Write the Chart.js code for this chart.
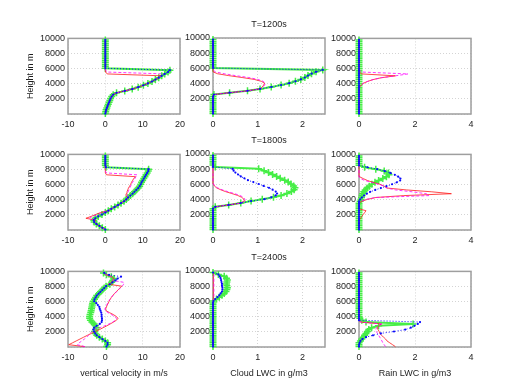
<!DOCTYPE html>
<html>
<head>
<meta charset="utf-8">
<script src="https://cdn.jsdelivr.net/npm/chart.js@4.4.0/dist/chart.umd.min.js"></script>
<style>
  body { margin: 0; background: #fff; }
  #fig { position: relative; width: 520px; height: 390px; overflow: hidden; background: #fff; }
  #fig canvas { position: absolute; }
</style>
</head>
<body>
<div id="fig"></div>
<script>
// height levels (m) shared by every profile
const heights = [50, 300, 550, 800, 1050, 1300, 1550, 1800, 2050, 2300,
  2550, 2800, 3050, 3300, 3550, 3800, 4050, 4300, 4550, 4800,
  5050, 5300, 5550, 5800, 6050, 6300, 6550, 6800, 7050, 7300,
  7550, 7800, 8050, 8300, 8550, 8800, 9050, 9300, 9550, 9800];

const times = ['T=1200s', 'T=1800s', 'T=2400s'];
const xLabels = ['vertical velocity in m/s', 'Cloud LWC in g/m3', 'Rain LWC in g/m3'];
const xRanges = [[-10, 20, 10], [0, 2.5, 1], [0, 4, 2]];
const yLabel = 'Height in m';

// T=1200s
const w1200Green = [0, 0.1, 0.2, 0.4, 0.6, 0.8, 1.0, 1.2, 1.4, 1.7, 2.1, 3.0, 5.2, 7.2, 8.8, 10.2, 11.4, 12.5, 13.4, 14.3,
  15.1, 15.9, 16.8, 17.3, 0, 0, 0, 0, 0, 0, 0, 0, 0, 0, 0, 0, 0, 0, 0, 0];
const w1200Blue = [0, 0.1, 0.2, 0.4, 0.6, 0.8, 1.0, 1.2, 1.4, 1.7, 2.1, 3.0, 5.2, 7.2, 8.8, 10.2, 11.4, 12.5, 13.4, 14.3,
  15.1, 15.9, 16.8, 17.3, 0, 0, 0, 0, 0, 0, 0, 0, 0, 0, 0, 0, 0, 0, 0, 0];
const w1200Red = [0, 0.1, 0.2, 0.4, 0.6, 0.8, 1.0, 1.2, 1.4, 1.7, 2.1, 3.0, 5.2, 7.2, 8.8, 10.2, 11.4, 12.5, 13.4, 14.3,
  15.1, 0.5, 0.1, 0, 0, 0, 0, 0, 0, 0, 0, 0, 0, 0, 0, 0, 0, 0, 0, 0];
const w1200Magenta = [0, 0.1, 0.2, 0.4, 0.6, 0.8, 1.0, 1.2, 1.4, 1.7, 2.1, 3.0, 5.2, 7.2, 8.8, 10.2, 11.4, 12.5, 13.4, 14.3,
  15.1, 15.9, 0.4, 0.1, 0, 0, 0, 0, 0, 0, 0, 0, 0, 0, 0, 0, 0, 0, 0, 0];

const c1200Green = [0, 0, 0, 0, 0, 0, 0, 0, 0, 0, 0.02, 0.37, 0.77, 1.05, 1.3, 1.52, 1.7, 1.84, 1.96, 2.05,
  2.12, 2.2, 2.3, 2.45, 0, 0, 0, 0, 0, 0, 0, 0, 0, 0, 0, 0, 0, 0, 0, 0];
const c1200Blue = [0, 0, 0, 0, 0, 0, 0, 0, 0, 0, 0.02, 0.37, 0.77, 1.05, 1.3, 1.52, 1.7, 1.84, 1.96, 2.05,
  2.12, 2.2, 2.3, 2.45, 0, 0, 0, 0, 0, 0, 0, 0, 0, 0, 0, 0, 0, 0, 0, 0];
const c1200Red = [0, 0, 0, 0, 0, 0, 0, 0, 0, 0, 0.02, 0.37, 0.77, 1.05, 1.1, 1.13, 1.15, 1.08, 0.92, 0.65,
  0.35, 0.1, 0, 0, 0, 0, 0, 0, 0, 0, 0, 0, 0, 0, 0, 0, 0, 0, 0, 0];
const c1200Magenta = [0, 0, 0, 0, 0, 0, 0, 0, 0, 0, 0.02, 0.37, 0.77, 1.05, 1.12, 1.15, 1.17, 1.12, 1.0, 0.8,
  0.5, 0.25, 0.05, 0, 0, 0, 0, 0, 0, 0, 0, 0, 0, 0, 0, 0, 0, 0, 0, 0];

const r1200Green = [0, 0, 0, 0, 0, 0, 0, 0, 0, 0, 0, 0, 0, 0, 0, 0, 0, 0, 0, 0,
  0, 0, 0, 0, 0, 0, 0, 0, 0, 0, 0, 0, 0, 0, 0, 0, 0, 0, 0, 0];
const r1200Blue = [0, 0, 0, 0, 0, 0, 0, 0, 0, 0, 0, 0, 0, 0, 0, 0, 0, 0, 0, 0,
  0, 0, 0, 0, 0, 0, 0, 0, 0, 0, 0, 0, 0, 0, 0, 0, 0, 0, 0, 0];
const r1200Red = [0, 0, 0, 0, 0, 0, 0, 0, 0, 0, 0, 0, 0, 0, 0.02, 0.08, 0.15, 0.3, 0.5, 0.8,
  1.3, 0.1, 0, 0, 0, 0, 0, 0, 0, 0, 0, 0, 0, 0, 0, 0, 0, 0, 0, 0];
const r1200Magenta = [0, 0, 0, 0, 0, 0, 0, 0, 0, 0, 0, 0, 0, 0, 0.02, 0.08, 0.15, 0.3, 0.5, 0.8,
  1.3, 1.75, 0.1, 0, 0, 0, 0, 0, 0, 0, 0, 0, 0, 0, 0, 0, 0, 0, 0, 0];

// T=1800s
const w1800Green = [0, -0.8, -1.6, -2.4, -3.0, -3.1, -2.7, -1.9, -0.9, 0.0, 0.8, 1.6, 2.5, 3.4, 4.2, 5.0, 5.6, 6.1, 6.7, 7.3,
  7.8, 8.3, 8.8, 9.2, 9.5, 9.7, 10.0, 10.3, 10.6, 10.9, 11.2, 11.5, 11.6, 0.2, 0, 0, 0, 0, 0, 0];
const w1800Blue = [0, -0.8, -1.6, -2.4, -3.0, -3.1, -2.7, -1.9, -0.9, 0.0, 0.8, 1.6, 2.5, 3.4, 4.2, 5.0, 5.6, 6.1, 6.7, 7.3,
  7.8, 8.3, 8.8, 9.2, 9.5, 9.7, 10.0, 10.3, 10.6, 10.9, 11.2, 11.5, 11.6, 0.2, 0, 0, 0, 0, 0, 0];
const w1800Red = [0, -0.8, -1.6, -2.4, -3.0, -2.6, -5.2, -3.8, -2.6, -1.3, 0.8, 1.6, 2.5, 3.4, 4.2, 5.0, 5.6, 6.1, 5.5, 5.6,
  5.8, 6.0, 6.2, 6.5, 6.8, 7.0, 7.3, 7.6, 8.1, 0.3, 0, 0, 0, 0, 0, 0, 0, 0, 0, 0];
const w1800Magenta = [0, -0.8, -1.6, -2.4, -3.0, -3.0, -4.2, -3.5, -2.0, -1.0, 0.8, 1.6, 2.5, 3.4, 4.2, 5.0, 5.6, 6.1, 5.8, 5.9,
  6.1, 6.3, 6.5, 6.8, 7.0, 7.3, 7.6, 7.9, 8.2, 8.5, 0.3, 0, 0, 0, 0, 0, 0, 0, 0, 0];

const c1800Green = [0, 0, 0, 0, 0, 0, 0, 0, 0, 0, 0, 0, 0.05, 0.35, 0.62, 0.85, 1.1, 1.35, 1.52, 1.65,
  1.75, 1.81, 1.83, 1.8, 1.74, 1.68, 1.6, 1.5, 1.42, 1.33, 1.24, 1.14, 1.02, 0.05, 0, 0, 0, 0, 0, 0];
const c1800Blue = [0, 0, 0, 0, 0, 0, 0, 0, 0, 0, 0, 0, 0.05, 0.35, 0.62, 0.85, 1.15, 1.3, 1.4, 1.43,
  1.4, 1.33, 1.25, 1.13, 1.02, 0.9, 0.78, 0.7, 0.62, 0.56, 0.5, 0.46, 0.44, 0, 0, 0, 0, 0, 0, 0];
const c1800Red = [0, 0, 0, 0, 0, 0, 0, 0, 0, 0, 0, 0, 0.05, 0.35, 0.62, 0.7, 0.69, 0.64, 0.55, 0.42,
  0.28, 0.17, 0.08, 0.03, 0.01, 0, 0, 0, 0, 0, 0, 0, 0, 0, 0, 0, 0, 0, 0, 0];
const c1800Magenta = [0, 0, 0, 0, 0, 0, 0, 0, 0, 0, 0, 0, 0.05, 0.35, 0.62, 0.72, 0.71, 0.68, 0.6, 0.47,
  0.33, 0.2, 0.1, 0.04, 0.01, 0, 0, 0, 0, 0, 0, 0, 0, 0, 0, 0, 0, 0, 0, 0];

const r1800Green = [0, 0, 0, 0, 0, 0, 0, 0, 0, 0, 0, 0, 0, 0, 0, 0.04, 0.07, 0.09, 0.11, 0.13,
  0.17, 0.22, 0.29, 0.37, 0.46, 0.57, 0.7, 0.85, 0.98, 1.07, 1.05, 0.9, 0.6, 0.2, 0, 0, 0, 0, 0, 0];
const r1800Blue = [0, 0, 0, 0, 0, 0, 0, 0, 0, 0, 0, 0, 0, 0, 0, 0, 0.04, 0.1, 0.18, 0.28,
  0.4, 0.58, 0.78, 0.98, 1.18, 1.35, 1.47, 1.48, 1.4, 1.28, 1.12, 0.92, 0.65, 0.3, 0, 0, 0, 0, 0, 0];
const r1800Red = [0, 0, 0, 0, 0, 0.02, 0.06, 0.1, 0.15, 0.2, 0.25, 0, 0, 0, 0.02, 0.1, 0.3, 0.6, 1.6, 3.3,
  2.6, 1.7, 1.0, 0.9, 0.75, 0.5, 0.3, 0.15, 0.02, 0, 0, 0, 0, 0, 0, 0, 0, 0, 0, 0];
const r1800Magenta = [0, 0, 0, 0, 0, 0, 0, 0, 0, 0, 0, 0, 0, 0, 0, 0.08, 0.25, 0.6, 2.5, 2.4,
  1.9, 1.3, 1.0, 0.9, 0.7, 0.45, 0.2, 0.05, 0, 0, 0, 0, 0, 0, 0, 0, 0, 0, 0, 0];

// T=2400s
const w2400Green = [0.3, 0.6, 0.6, 0, -0.8, -1.6, -2.3, -2.7, -2.9, -2.6, -2.4, -2.6, -3.0, -3.6, -4.0, -4.2, -4.2, -4.1, -3.9, -3.8,
  -3.7, -3.6, -3.5, -3.4, -3.2, -2.9, -2.6, -2.3, -1.8, -1.3, -0.8, -0.3, 0.2, 1.2, 1.7, 2.0, 2.3, 1.6, 0.3, -0.5];
const w2400Blue = [0.3, 0.6, 0.6, 0, -0.8, -1.6, -2.3, -2.7, -3.0, -3.2, -3.0, -2.3, -1.5, -1.0, -0.9, -0.9, -1.0, -1.0, -1.1, -1.3,
  -1.5, -1.6, -2.0, -2.4, -3.0, -2.9, -2.6, -2.3, -1.8, -1.3, -0.8, -0.3, 0.2, 1.2, 1.9, 2.7, 3.3, 4.2, 1.0, -0.3];
const w2400Red = [-5.5, -9.8, -8.8, -7.8, -6.8, -5.8, -4.8, -3.7, -2.6, -1.6, -0.6, 0.4, 1.3, 2.2, 3.0, 3.4, 2.9, 2.1, 1.1, 0.2,
  0.1, 0.3, 0.5, 0.8, 1.0, 1.3, 1.6, 2.0, 2.4, 2.9, 3.4, 3.9, 4.4, 0.8, 1.7, 2.0, 2.3, 1.6, 0.3, -0.5];
const w2400Magenta = [-5.5, -7.5, -7.0, -6.3, -5.6, -5.0, -4.5, -4.1, -3.6, -2.8, -1.5, -0.2, 1.0, 2.0, 2.7, 3.0, 2.5, 1.6, 0.7, 0.0,
  -0.1, 0.1, 0.4, 0.6, 0.9, 1.2, 1.6, 2.0, 2.5, 3.0, 3.5, 4.0, 4.5, 4.9, 5.0, 2.0, 2.3, 1.6, 0.3, -0.5];

const c2400Green = [0, 0, 0, 0, 0, 0, 0, 0, 0, 0, 0, 0, 0, 0, 0, 0, 0, 0, 0, 0,
  0, 0, 0, 0, 0.01, 0.08, 0.14, 0.2, 0.25, 0.29, 0.31, 0.32, 0.31, 0.3, 0.31, 0.32, 0.3, 0.25, 0.12, 0];
const c2400Blue = [0, 0, 0, 0, 0, 0, 0, 0, 0, 0, 0, 0, 0, 0, 0, 0, 0, 0, 0, 0,
  0, 0, 0, 0, 0.01, 0.05, 0.1, 0.14, 0.17, 0.2, 0.21, 0.21, 0.2, 0.2, 0.19, 0.18, 0.17, 0.15, 0.12, 0];
const c2400Red = [0, 0, 0, 0, 0, 0, 0, 0, 0, 0, 0, 0, 0, 0, 0, 0, 0, 0, 0, 0,
  0, 0, 0, 0, 0, 0.01, 0.02, 0.02, 0.02, 0.02, 0.02, 0.02, 0.02, 0.02, 0.02, 0.02, 0.02, 0.02, 0.02, 0];
const c2400Magenta = [0, 0, 0, 0, 0, 0, 0, 0, 0, 0, 0, 0, 0, 0, 0, 0, 0, 0, 0, 0,
  0, 0, 0, 0, 0, 0.01, 0.02, 0.02, 0.02, 0.02, 0.02, 0.02, 0.02, 0.02, 0.02, 0.02, 0.02, 0.02, 0.02, 0];

const r2400Green = [0, 0, 0, 0.05, 0.1, 0.15, 0.2, 0.25, 0.3, 0.35, 0.45, 0.7, 1.93, 0.25, 0.1, 0.03, 0, 0, 0, 0,
  0, 0, 0, 0, 0, 0, 0, 0, 0, 0, 0, 0, 0, 0, 0, 0, 0, 0, 0, 0];
const r2400Blue = [0, 0, 0.02, 0.05, 0.12, 0.25, 0.5, 0.78, 1.25, 1.65, 1.85, 1.98, 2.1, 2.18, 0, 0, 0, 0, 0, 0,
  0, 0, 0, 0, 0, 0, 0, 0, 0, 0, 0, 0, 0, 0, 0, 0, 0, 0, 0, 0];
const r2400Red = [1.3, 1.2, 1.1, 1.0, 0.95, 0.88, 0.8, 0.75, 0.72, 0.68, 0.66, 0.7, 0.8, 0.05, 0, 0, 0, 0, 0, 0,
  0, 0, 0, 0, 0, 0, 0, 0, 0, 0, 0, 0, 0, 0, 0, 0, 0, 0, 0, 0];
const r2400Magenta = [0.95, 0.9, 0.85, 0.82, 0.78, 0.74, 0.7, 0.66, 0.62, 0.6, 0.62, 0.7, 0.85, 0.05, 0, 0, 0, 0, 0, 0,
  0, 0, 0, 0, 0, 0, 0, 0, 0, 0, 0, 0, 0, 0, 0, 0, 0, 0, 0, 0];

const panels = [
  [[w1200Green, w1200Blue, w1200Red, w1200Magenta], [c1200Green, c1200Blue, c1200Red, c1200Magenta], [r1200Green, r1200Blue, r1200Red, r1200Magenta]],
  [[w1800Green, w1800Blue, w1800Red, w1800Magenta], [c1800Green, c1800Blue, c1800Red, c1800Magenta], [r1800Green, r1800Blue, r1800Red, r1800Magenta]],
  [[w2400Green, w2400Blue, w2400Red, w2400Magenta], [c2400Green, c2400Blue, c2400Red, c2400Magenta], [r2400Green, r2400Blue, r2400Red, r2400Magenta]]
];

// layout of the 3x3 grid (plot area boxes)
const plotLeft = [68, 213, 359];
const plotTop = [38, 154, 271];
const plotW = 112, plotH = 76;
const axisW = [68, 45, 45];
const padRight = 12;
const textColor = '#1e1e1e';
const green = 'rgb(70,238,70)';

Chart.defaults.font.family = '"Liberation Sans", Arial, Helvetica, sans-serif';
Chart.defaults.font.size = 9;
Chart.defaults.color = textColor;

const boxFrame = {
  id: 'boxFrame',
  beforeDatasetsDraw(chart) {
    const { ctx, chartArea: a } = chart;
    ctx.save();
    ctx.strokeStyle = '#9e9e9e';
    ctx.lineWidth = 1.5;
    ctx.strokeRect(a.left, a.top, a.right - a.left, a.bottom - a.top);
    ctx.restore();
  }
};

function profile(values) {
  return values.map((v, i) => ({ x: v, y: heights[i] }));
}

function makeDatasets([greenVals, blueVals, redVals, magentaVals]) {
  // first dataset is drawn on top
  return [
    {
      data: profile(blueVals), showLine: true, borderColor: '#0a0aff', backgroundColor: '#0a0aff',
      borderWidth: 1, borderDash: [1, 2], pointRadius: 1.1, pointBorderWidth: 0, clip: 6
    },
    {
      data: profile(magentaVals), showLine: true, borderColor: '#ff00ff',
      borderWidth: 0.8, borderDash: [3, 2], pointRadius: 0, clip: 6
    },
    {
      data: profile(redVals), showLine: true, borderColor: '#ff1a1a',
      borderWidth: 0.8, pointRadius: 0, clip: 6
    },
    {
      data: profile(greenVals), showLine: true, borderColor: green, backgroundColor: green,
      borderWidth: 2, pointStyle: 'cross', pointRadius: 3.5, pointBorderWidth: 1.5,
      pointBorderColor: green, clip: 6
    }
  ];
}

const fig = document.getElementById('fig');

function makePanel(r, c) {
  const hasTitle = c === 1;
  const topSpace = hasTitle ? 23 : 8;
  const xh = r === 2 ? 40 : 18;
  const w = axisW[c] + plotW + padRight;
  const h = topSpace + plotH + xh;
  const canvas = document.createElement('canvas');
  canvas.width = w;
  canvas.height = h;
  canvas.style.width = w + 'px';
  canvas.style.height = h + 'px';
  canvas.style.left = (plotLeft[c] - axisW[c]) + 'px';
  canvas.style.top = (plotTop[r] - topSpace) + 'px';
  fig.appendChild(canvas);

  const [xMin, xMax, xStep] = xRanges[c];

  new Chart(canvas.getContext('2d'), {
    type: 'scatter',
    data: { datasets: makeDatasets(panels[r][c]) },
    options: {
      responsive: false,
      animation: false,
      devicePixelRatio: 1,
      elements: { line: { tension: 0 } },
      layout: { padding: { top: hasTitle ? 0 : 8, right: padRight, left: 0, bottom: 0 } },
      scales: {
        x: {
          type: 'linear',
          min: xMin,
          max: xMax,
          ticks: {
            stepSize: xStep, includeBounds: false, padding: 5, maxRotation: 0, autoSkip: false,
            color: textColor, callback: v => String(v)
          },
          grid: { color: '#d4d4d4', lineWidth: 1, drawTicks: false },
          border: { display: false, dash: [1, 2] },
          title: {
            display: r === 2,
            text: xLabels[c],
            color: textColor,
            font: { size: 9, lineHeight: '12px' },
            padding: { top: 0, bottom: 7 }
          },
          afterFit: s => { s.height = xh; }
        },
        y: {
          type: 'linear',
          min: 0,
          max: 10000,
          ticks: {
            stepSize: 2000, padding: 3, color: textColor,
            callback: v => (v === 0 ? '' : String(v))
          },
          grid: { color: '#d4d4d4', lineWidth: 1, drawTicks: false },
          border: { display: false, dash: [1, 2] },
          title: {
            display: c === 0,
            text: yLabel,
            color: textColor,
            font: { size: 9, lineHeight: '12px' },
            padding: { top: 25, bottom: 0 }
          },
          afterFit: s => { s.width = axisW[c]; }
        }
      },
      plugins: {
        legend: { display: false },
        tooltip: { enabled: false },
        title: {
          display: hasTitle,
          text: times[r],
          fullSize: false,
          color: textColor,
          font: { size: 9, weight: 'normal', lineHeight: '12px' },
          padding: { top: 4, bottom: 7 }
        }
      }
    },
    plugins: [boxFrame]
  });
}

for (let r = 0; r < 3; r++) {
  for (let c = 0; c < 3; c++) {
    makePanel(r, c);
  }
}
</script>
</body>
</html>
